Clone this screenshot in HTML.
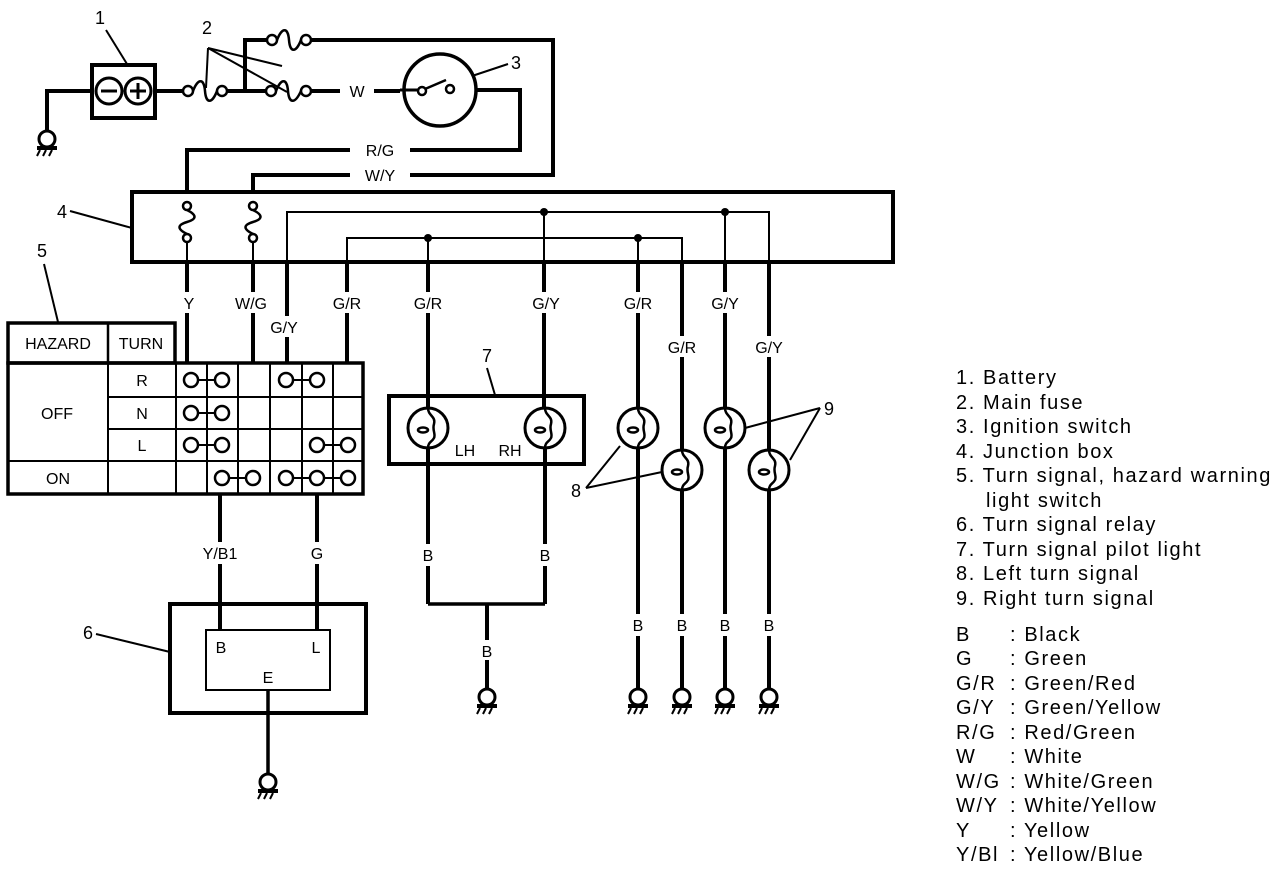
<!DOCTYPE html>
<html><head><meta charset="utf-8"><style>
html,body{margin:0;padding:0;background:#fff}
svg{display:block}
text{font-family:"Liberation Sans",sans-serif;fill:#000}
.l{font-size:16px;text-anchor:middle}
.g{font-size:20px;letter-spacing:1.6px}
</style></head><body>
<svg width="1280" height="872" viewBox="0 0 1280 872" xmlns="http://www.w3.org/2000/svg">
<defs>
<g id="gnd"><circle cx="0" cy="0" r="8" fill="#fff" stroke="#000" stroke-width="3"/><line x1="-10" y1="9" x2="10" y2="9" stroke="#000" stroke-width="4"/><path d="M-7 11 l-3 6 M-1 11 l-3 6 M5 11 l-3 6" stroke="#000" stroke-width="2"/></g>
<g id="bulb"><circle cx="0" cy="0" r="20" fill="#fff" stroke="#000" stroke-width="3"/><path d="M0 -20 C0 -12 8 -12 6 -4 C4 2 8 6 6 10 C4 14 0 14 0 20" fill="none" stroke="#000" stroke-width="2.5"/><ellipse cx="-5" cy="2" rx="5" ry="2.5" fill="none" stroke="#000" stroke-width="2.5"/></g>
<g id="sw"><circle cx="0" cy="0" r="7" fill="#fff" stroke="#000" stroke-width="2.5"/></g>
</defs>
<g stroke="#000" fill="none" stroke-width="4">
<rect x="92" y="65" width="63" height="53"/>
<circle cx="109" cy="91" r="13" stroke-width="3"/><circle cx="138" cy="91" r="13" stroke-width="3"/>
<line x1="101" y1="91" x2="117" y2="91" stroke-width="3"/>
<line x1="130" y1="91" x2="146" y2="91" stroke-width="3"/><line x1="138" y1="83" x2="138" y2="99" stroke-width="3"/>
<polyline points="92,91 47,91 47,132"/>
<polyline points="155,91 183,91"/>
<circle cx="188" cy="91" r="5" stroke-width="2.5"/><circle cx="222" cy="91" r="5" stroke-width="2.5"/>
<path d="M193 91 C198 78 204 78 205 91 C206 104 212 104 217 91" stroke-width="2.5"/>
<line x1="227" y1="91" x2="266" y2="91"/>
<polyline points="245,91 245,40 267,40"/>
<circle cx="272" cy="40" r="5" stroke-width="2.5"/><circle cx="306" cy="40" r="5" stroke-width="2.5"/>
<path d="M277 40 C282 27 288 27 289 40 C290 53 296 53 301 40" stroke-width="2.5"/>
<polyline points="311,40 553,40 553,175 410,175"/>
<circle cx="271" cy="91" r="5" stroke-width="2.5"/><circle cx="306" cy="91" r="5" stroke-width="2.5"/>
<path d="M276 91 C281 78 287 78 288 91 C289 104 295 104 301 91" stroke-width="2.5"/>
<line x1="311" y1="91" x2="340" y2="91"/>
<line x1="374" y1="91" x2="400" y2="91"/>
<circle cx="440" cy="90" r="36" stroke-width="3.5"/>
<line x1="400" y1="90" x2="418" y2="90" stroke-width="3"/>
<circle cx="422" cy="91" r="4" stroke-width="2.5"/><circle cx="450" cy="89" r="4" stroke-width="2.5"/>
<line x1="425" y1="89" x2="446" y2="80" stroke-width="2.5"/>
<polyline points="476,90 520,90 520,150 410,150"/>
<polyline points="350,150 187,150 187,192"/>
<polyline points="350,175 253,175 253,192"/>
<g stroke-width="2">
<line x1="106" y1="30" x2="127" y2="64"/>
<line x1="208" y1="48" x2="206" y2="88"/><line x1="208" y1="48" x2="282" y2="66"/><line x1="208" y1="48" x2="287" y2="92"/>
<line x1="472" y1="76" x2="508" y2="64"/>
<line x1="70" y1="211" x2="132" y2="228"/>
<line x1="44" y1="264" x2="58" y2="322"/>
<line x1="96" y1="634" x2="170" y2="652"/>
<line x1="487" y1="368" x2="495" y2="395"/>
<line x1="586" y1="488" x2="620" y2="446"/><line x1="586" y1="488" x2="662" y2="472"/>
<line x1="820" y1="408" x2="745" y2="428"/><line x1="820" y1="408" x2="790" y2="460"/>
</g>
<rect x="132" y="192" width="761" height="70"/>
<g stroke-width="2.5">
<circle cx="187" cy="206" r="4"/><circle cx="187" cy="238" r="4"/>
<path d="M187 210 C197 215 197 219 187 222 C177 225 177 229 187 234"/>
<circle cx="253" cy="206" r="4"/><circle cx="253" cy="238" r="4"/>
<path d="M253 210 C263 215 263 219 253 222 C243 225 243 229 253 234"/>
</g>
<polyline points="187,242 187,262" stroke-width="2"/><polyline points="253,242 253,262" stroke-width="2"/>
<polyline points="287,310 287,212 769,212 769,262" stroke-width="2"/>
<polyline points="347,262 347,238 682,238 682,262" stroke-width="2"/>
<line x1="544" y1="212" x2="544" y2="262" stroke-width="2"/>
<line x1="725" y1="212" x2="725" y2="262" stroke-width="2"/>
<line x1="428" y1="238" x2="428" y2="262" stroke-width="2"/>
<line x1="638" y1="238" x2="638" y2="262" stroke-width="2"/>
</g>
<g fill="#000"><circle cx="544" cy="212" r="4"/><circle cx="725" cy="212" r="4"/><circle cx="428" cy="238" r="4"/><circle cx="638" cy="238" r="4"/></g>
<g stroke="#000" stroke-width="4" fill="none">
<line x1="187" y1="262" x2="187" y2="292"/><line x1="187" y1="313" x2="187" y2="363"/>
<line x1="253" y1="262" x2="253" y2="292"/><line x1="253" y1="313" x2="253" y2="363"/>
<line x1="287" y1="262" x2="287" y2="316"/><line x1="287" y1="337" x2="287" y2="363"/>
<line x1="347" y1="262" x2="347" y2="292"/><line x1="347" y1="313" x2="347" y2="363"/>
<line x1="428" y1="262" x2="428" y2="292"/><line x1="428" y1="313" x2="428" y2="408"/>
<line x1="544" y1="262" x2="544" y2="292"/><line x1="544" y1="313" x2="544" y2="408"/>
<line x1="638" y1="262" x2="638" y2="292"/><line x1="638" y1="313" x2="638" y2="408"/>
<line x1="682" y1="262" x2="682" y2="336"/><line x1="682" y1="357" x2="682" y2="450"/>
<line x1="725" y1="262" x2="725" y2="292"/><line x1="725" y1="313" x2="725" y2="408"/>
<line x1="769" y1="262" x2="769" y2="336"/><line x1="769" y1="357" x2="769" y2="450"/>
<line x1="428" y1="448" x2="428" y2="544"/><line x1="428" y1="566" x2="428" y2="604"/>
<line x1="545" y1="448" x2="545" y2="544"/><line x1="545" y1="566" x2="545" y2="604"/>
<polyline points="428,604 545,604" stroke-width="3.5"/>
<line x1="487" y1="604" x2="487" y2="640"/><line x1="487" y1="660" x2="487" y2="690"/>
<line x1="638" y1="448" x2="638" y2="614"/><line x1="638" y1="636" x2="638" y2="690"/>
<line x1="682" y1="490" x2="682" y2="614"/><line x1="682" y1="636" x2="682" y2="690"/>
<line x1="725" y1="448" x2="725" y2="614"/><line x1="725" y1="636" x2="725" y2="690"/>
<line x1="769" y1="490" x2="769" y2="614"/><line x1="769" y1="636" x2="769" y2="690"/>
<rect x="389" y="396" width="195" height="68"/>
<rect x="8" y="323" width="167" height="40" stroke-width="3.5"/>
<line x1="108" y1="323" x2="108" y2="363" stroke-width="2.5"/>
<rect x="8" y="363" width="355" height="131" stroke-width="3.5"/>
<g stroke-width="2">
<line x1="108" y1="363" x2="108" y2="494"/>
<line x1="176" y1="363" x2="176" y2="494"/>
<line x1="207" y1="363" x2="207" y2="494"/><line x1="238" y1="363" x2="238" y2="494"/>
<line x1="270" y1="363" x2="270" y2="494"/><line x1="302" y1="363" x2="302" y2="494"/>
<line x1="333" y1="363" x2="333" y2="494"/>
<line x1="108" y1="397" x2="363" y2="397"/><line x1="108" y1="429" x2="363" y2="429"/>
<line x1="8" y1="461" x2="363" y2="461"/>
</g>
<g stroke-width="2">
<line x1="191" y1="380" x2="222" y2="380"/><line x1="286" y1="380" x2="317" y2="380"/>
<line x1="191" y1="413" x2="222" y2="413"/>
<line x1="191" y1="445" x2="222" y2="445"/><line x1="317" y1="445" x2="348" y2="445"/>
<line x1="222" y1="478" x2="253" y2="478"/><line x1="286" y1="478" x2="348" y2="478"/>
</g>
<line x1="220" y1="494" x2="220" y2="542"/><line x1="220" y1="564" x2="220" y2="630"/>
<line x1="317" y1="494" x2="317" y2="542"/><line x1="317" y1="564" x2="317" y2="630"/>
<rect x="170" y="604" width="196" height="109"/>
<rect x="206" y="630" width="124" height="60" stroke-width="2"/>
<line x1="268" y1="690" x2="268" y2="774" stroke-width="3.5"/>
</g>
<use href="#gnd" x="47" y="139"/>
<use href="#gnd" x="268" y="782"/>
<use href="#gnd" x="487" y="697"/>
<use href="#gnd" x="638" y="697"/><use href="#gnd" x="682" y="697"/><use href="#gnd" x="725" y="697"/><use href="#gnd" x="769" y="697"/>
<use href="#bulb" x="428" y="428"/><use href="#bulb" x="545" y="428"/>
<use href="#bulb" x="638" y="428"/><use href="#bulb" x="682" y="470"/>
<use href="#bulb" x="725" y="428"/><use href="#bulb" x="769" y="470"/>
<use href="#sw" x="191" y="380"/><use href="#sw" x="222" y="380"/><use href="#sw" x="286" y="380"/><use href="#sw" x="317" y="380"/>
<use href="#sw" x="191" y="413"/><use href="#sw" x="222" y="413"/>
<use href="#sw" x="191" y="445"/><use href="#sw" x="222" y="445"/><use href="#sw" x="317" y="445"/><use href="#sw" x="348" y="445"/>
<use href="#sw" x="222" y="478"/><use href="#sw" x="253" y="478"/><use href="#sw" x="286" y="478"/><use href="#sw" x="317" y="478"/><use href="#sw" x="348" y="478"/>
<g class="l">
<text x="100" y="24" font-size="18">1</text>
<text x="207" y="34" font-size="18">2</text>
<text x="516" y="69" font-size="18">3</text>
<text x="62" y="218" font-size="18">4</text>
<text x="42" y="257" font-size="18">5</text>
<text x="88" y="639" font-size="18">6</text>
<text x="487" y="362" font-size="18">7</text>
<text x="576" y="497" font-size="18">8</text>
<text x="829" y="415" font-size="18">9</text>
<text x="357" y="97">W</text>
<text x="380" y="156">R/G</text>
<text x="380" y="181">W/Y</text>
<text x="189" y="309">Y</text>
<text x="251" y="309">W/G</text>
<text x="284" y="333">G/Y</text>
<text x="347" y="309">G/R</text>
<text x="428" y="309">G/R</text>
<text x="546" y="309">G/Y</text>
<text x="638" y="309">G/R</text>
<text x="682" y="353">G/R</text>
<text x="725" y="309">G/Y</text>
<text x="769" y="353">G/Y</text>
<text x="58" y="349">HAZARD</text>
<text x="141" y="349">TURN</text>
<text x="142" y="386">R</text>
<text x="142" y="419">N</text>
<text x="142" y="451">L</text>
<text x="57" y="419">OFF</text>
<text x="58" y="484">ON</text>
<text x="465" y="456">LH</text>
<text x="510" y="456">RH</text>
<text x="220" y="559">Y/B1</text>
<text x="317" y="559">G</text>
<text x="221" y="653">B</text>
<text x="316" y="653">L</text>
<text x="268" y="683">E</text>
<text x="428" y="561">B</text><text x="545" y="561">B</text><text x="487" y="657">B</text>
<text x="638" y="631">B</text><text x="682" y="631">B</text><text x="725" y="631">B</text><text x="769" y="631">B</text>
</g>
<g class="g">
<text x="956" y="384">1. Battery</text>
<text x="956" y="409">2. Main fuse</text>
<text x="956" y="433">3. Ignition switch</text>
<text x="956" y="458">4. Junction box</text>
<text x="956" y="482">5. Turn signal, hazard warning</text>
<text x="986" y="507">light switch</text>
<text x="956" y="531">6. Turn signal relay</text>
<text x="956" y="556">7. Turn signal pilot light</text>
<text x="956" y="580">8. Left turn signal</text>
<text x="956" y="605">9. Right turn signal</text>
<text x="956" y="641">B</text><text x="1010" y="641">: Black</text>
<text x="956" y="665">G</text><text x="1010" y="665">: Green</text>
<text x="956" y="690">G/R</text><text x="1010" y="690">: Green/Red</text>
<text x="956" y="714">G/Y</text><text x="1010" y="714">: Green/Yellow</text>
<text x="956" y="739">R/G</text><text x="1010" y="739">: Red/Green</text>
<text x="956" y="763">W</text><text x="1010" y="763">: White</text>
<text x="956" y="788">W/G</text><text x="1010" y="788">: White/Green</text>
<text x="956" y="812">W/Y</text><text x="1010" y="812">: White/Yellow</text>
<text x="956" y="837">Y</text><text x="1010" y="837">: Yellow</text>
<text x="956" y="861">Y/Bl</text><text x="1010" y="861">: Yellow/Blue</text>
</g>
</svg>
</body></html>
